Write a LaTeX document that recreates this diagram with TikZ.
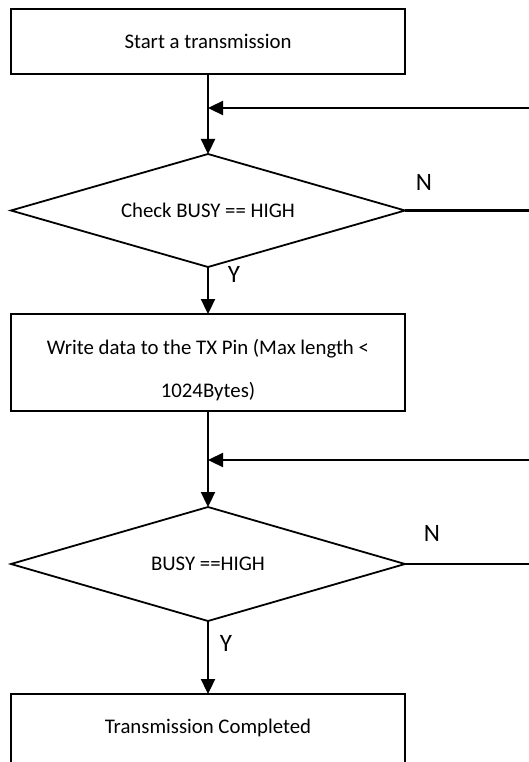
\documentclass[tikz,border=0pt]{standalone}
\usepackage{fontspec}
\setmainfont{Carlito}
\usetikzlibrary{shapes.geometric,arrows.meta}
\begin{document}
\begin{tikzpicture}[x=1pt,y=-1pt,
  procbox/.style={draw, line width=2pt, minimum width=394pt, inner sep=0pt, outer sep=0pt, font=\fontsize{20.8pt}{43pt}\selectfont, align=center},
  decbox/.style={draw, diamond, line width=1.8pt, minimum width=394pt, aspect=3.49, inner sep=0pt, outer sep=0pt, font=\fontsize{20.8pt}{25pt}\selectfont},
  flow/.style={line width=2.3pt, -{Triangle[length=15pt,width=14pt]}},
  yn/.style={font=\fontsize{25pt}{30pt}\selectfont, inner sep=0pt}]
\useasboundingbox (0,0) rectangle (529,762);
\clip (0,0) rectangle (529,762);
\fill[white] (0,0) rectangle (529,762);

\node[procbox, minimum height=65pt] (b1) at (208,41.5) {Start a transmission};
\node[decbox, minimum height=113pt] (d1) at (208,210.5) {Check BUSY == HIGH};
\node[procbox, minimum height=97pt, text height=75pt, text depth=5pt] (b2) at (208,362.5) {Write data to the TX Pin (Max length <\\1024Bytes)};
\node[decbox, minimum height=114pt] (d2) at (208,564) {BUSY ==HIGH};
\node[procbox, minimum height=97pt, text height=15pt, text depth=34pt] (b3) at (208,742.5) {Transmission Completed};

\coordinate (j1) at (208,108);
\coordinate (j2) at (208,460);
\coordinate (r1) at (560,210.5);
\coordinate (r2) at (560,564);

\draw[flow] (b1.south) -- (d1.north);
\draw[flow] (d1.east) -- (r1) |- (j1);
\draw[flow] (d1.south) -- (b2.north);
\draw[flow] (b2.south) -- (d2.north);
\draw[flow] (d2.east) -- (r2) |- (j2);
\draw[flow] (d2.south) -- (b3.north);

\node[yn] (n1) at (424,182) {N};
\node[yn] (y1) at (234,274) {Y};
\node[yn] (n2) at (432,533) {N};
\node[yn] (y2) at (226,643) {Y};
\end{tikzpicture}
\end{document}
